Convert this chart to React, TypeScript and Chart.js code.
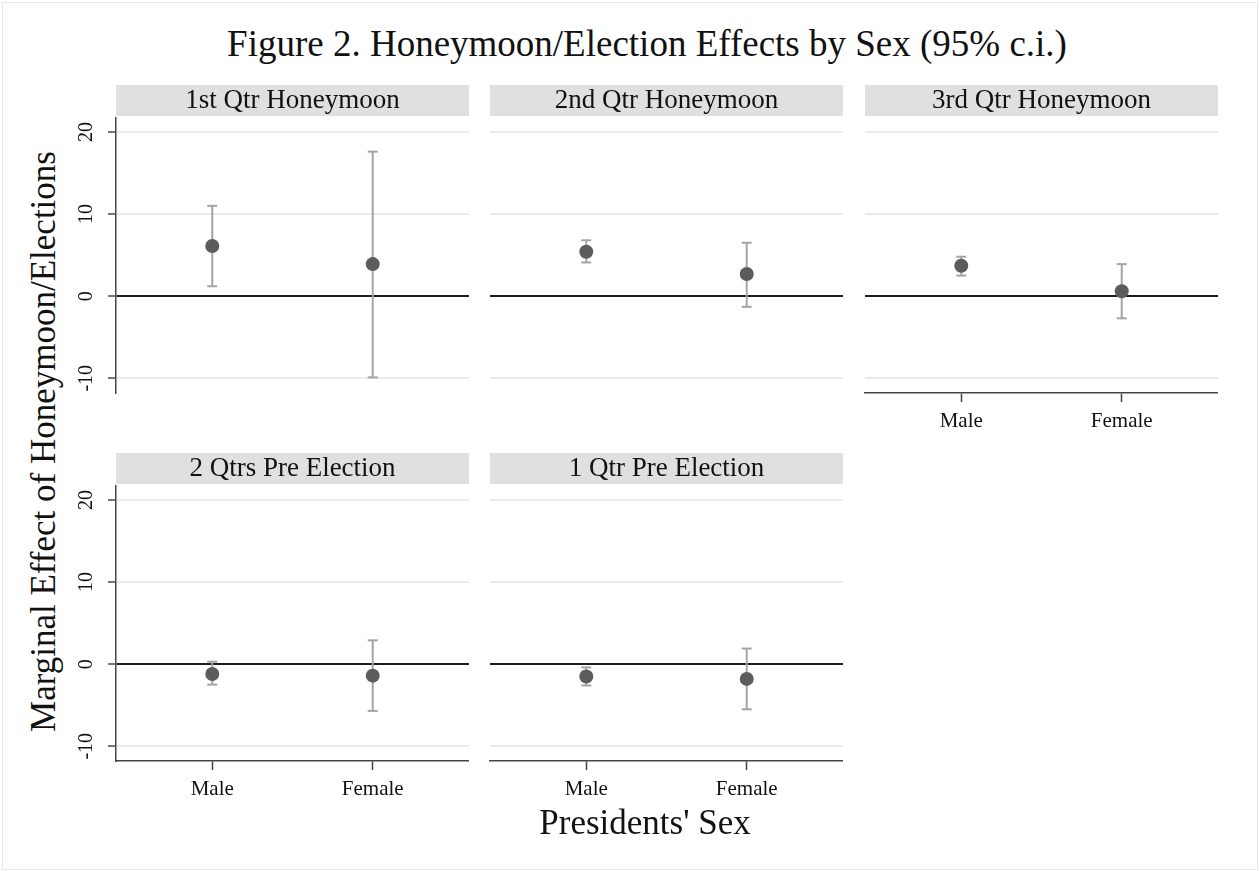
import React, { useEffect, useRef } from 'react';
import { Chart, registerables } from 'chart.js';

Chart.register(...registerables);

// ---- data ----
const categories = ['Male', 'Female'];
const categoryPositions = [1, 2];
const panelTitles = [
  '1st Qtr Honeymoon',
  '2nd Qtr Honeymoon',
  '3rd Qtr Honeymoon',
  '2 Qtrs Pre Election',
  '1 Qtr Pre Election',
];
const maleEffect = [6.1, 5.4, 3.7, -1.2, -1.5];
const maleLower = [1.2, 4.1, 2.5, -2.5, -2.6];
const maleUpper = [11.0, 6.8, 4.8, 0.3, -0.4];
const femaleEffect = [3.9, 2.7, 0.6, -1.4, -1.8];
const femaleLower = [-9.9, -1.3, -2.7, -5.7, -5.5];
const femaleUpper = [17.6, 6.5, 3.9, 2.9, 1.9];
const yTicks = [-10, 0, 10, 20];

const figureTitle = 'Figure 2. Honeymoon/Election Effects by Sex (95% c.i.)';
const yAxisTitle = 'Marginal Effect of Honeymoon/Elections';
const xAxisTitle = "Presidents' Sex";

// ---- layout & style ----
const FONT = '"Liberation Serif", "Times New Roman", serif';
const PLOT_W = 353;
const PLOT_H = 275;
const STRIP_H = 31;
const STRIP_SPACE = 33;
const Y_AXIS_W = 45;
const X_AXIS_H = 50;
const COL_LEFT = [116, 490, 865];
const ROW_TOP = [118, 486];

const POINT_COLOR = '#5c5c5c';
const WHISKER_COLOR = '#a4a4a4';
const GRID_COLOR = '#ebebeb';
const ZERO_COLOR = '#1c1c1c';
const AXIS_COLOR = '#454545';
const STRIP_COLOR = '#e0e0e0';

type PanelSpec = { index: number; col: number; row: number; showY: boolean; showX: boolean };

const panelSpecs: PanelSpec[] = [
  { index: 0, col: 0, row: 0, showY: true, showX: false },
  { index: 1, col: 1, row: 0, showY: false, showX: false },
  { index: 2, col: 2, row: 0, showY: false, showX: true },
  { index: 3, col: 0, row: 1, showY: true, showX: true },
  { index: 4, col: 1, row: 1, showY: false, showX: true },
];

function Panel({ spec }: { spec: PanelSpec }) {
  const ref = useRef<HTMLCanvasElement | null>(null);
  const w = Y_AXIS_W + PLOT_W;
  const h = STRIP_SPACE + PLOT_H + X_AXIS_H;
  const left = COL_LEFT[spec.col] - Y_AXIS_W;
  const top = ROW_TOP[spec.row] - STRIP_SPACE;

  useEffect(() => {
    if (!ref.current) return;
    const i = spec.index;

    // grey header strip with the panel caption
    const stripPlugin = {
      id: 'panelStrip',
      beforeDraw(chart: any) {
        const { ctx, chartArea } = chart;
        ctx.save();
        ctx.fillStyle = STRIP_COLOR;
        ctx.fillRect(chartArea.left, 0, chartArea.right - chartArea.left, STRIP_H);
        ctx.fillStyle = '#111';
        ctx.font = `27px ${FONT}`;
        ctx.textAlign = 'center';
        ctx.textBaseline = 'alphabetic';
        ctx.fillText(panelTitles[i], (chartArea.left + chartArea.right) / 2, 23);
        ctx.restore();
      },
    };

    // vertical (rotated) value labels on the left axis
    const yLabelPlugin = {
      id: 'rotatedYLabels',
      afterDraw(chart: any) {
        if (!spec.showY) return;
        const { ctx, chartArea } = chart;
        const scale = chart.scales.y;
        ctx.save();
        ctx.fillStyle = '#111';
        ctx.font = `20px ${FONT}`;
        ctx.textAlign = 'center';
        ctx.textBaseline = 'alphabetic';
        for (const v of yTicks) {
          const py = scale.getPixelForValue(v);
          ctx.save();
          ctx.translate(chartArea.left - 24, py);
          ctx.rotate(-Math.PI / 2);
          ctx.fillText(String(v), 0, 0);
          ctx.restore();
        }
        ctx.restore();
      },
    };

    const whisker = (x: number, lo: number, hi: number) => ({
      type: 'scatter' as const,
      data: [
        { x, y: lo },
        { x, y: hi },
      ],
      showLine: true,
      borderColor: WHISKER_COLOR,
      borderWidth: 2,
      pointStyle: 'line' as const,
      pointRadius: 5,
      pointBorderColor: WHISKER_COLOR,
      pointBorderWidth: 2,
      pointBackgroundColor: WHISKER_COLOR,
      order: 2,
    });

    const chart = new Chart(ref.current, {
      type: 'scatter',
      data: {
        datasets: [
          {
            data: [
              { x: categoryPositions[0], y: maleEffect[i] },
              { x: categoryPositions[1], y: femaleEffect[i] },
            ],
            pointRadius: 7,
            pointBackgroundColor: POINT_COLOR,
            pointBorderColor: POINT_COLOR,
            pointBorderWidth: 0,
            order: 1,
          },
          whisker(categoryPositions[0], maleLower[i], maleUpper[i]),
          whisker(categoryPositions[1], femaleLower[i], femaleUpper[i]),
        ],
      },
      options: {
        animation: false,
        responsive: false,
        devicePixelRatio: 1,
        events: [],
        layout: { autoPadding: false, padding: { top: STRIP_SPACE, right: 0, left: 0, bottom: 0 } },
        plugins: {
          legend: { display: false },
          tooltip: { enabled: false },
          title: { display: false },
        },
        scales: {
          x: {
            type: 'linear',
            min: 0.4,
            max: 2.6,
            afterBuildTicks: (s: any) => {
              s.ticks = categoryPositions.map((v) => ({ value: v }));
            },
            afterFit: (s: any) => {
              s.height = X_AXIS_H;
              s.paddingLeft = 0;
              s.paddingRight = 0;
            },
            ticks: {
              display: spec.showX,
              autoSkip: false,
              maxRotation: 0,
              minRotation: 0,
              padding: 7,
              color: '#111',
              font: { family: FONT, size: 21 },
              callback: (_v: any, idx: number) => categories[idx],
            },
            grid: {
              display: true,
              drawOnChartArea: false,
              drawTicks: spec.showX,
              tickLength: 9,
              tickColor: AXIS_COLOR,
              tickWidth: 1.5,
            },
            border: { display: spec.showX, color: AXIS_COLOR, width: 1.5 },
          },
          y: {
            type: 'linear',
            min: -11.8,
            max: 21.7,
            afterBuildTicks: (s: any) => {
              s.ticks = yTicks.map((v) => ({ value: v }));
            },
            afterFit: (s: any) => {
              s.width = Y_AXIS_W;
              s.paddingTop = 0;
              s.paddingBottom = 0;
            },
            ticks: { display: false },
            grid: {
              color: (c: any) => (c.tick && c.tick.value === 0 ? ZERO_COLOR : GRID_COLOR),
              lineWidth: 2,
              drawTicks: spec.showY,
              tickLength: 8,
              tickColor: AXIS_COLOR,
              tickWidth: 1.5,
            },
            border: { display: spec.showY, color: AXIS_COLOR, width: 1.5 },
          },
        },
      } as any,
      plugins: [stripPlugin, yLabelPlugin],
    });
    return () => chart.destroy();
  }, []);

  return (
    <canvas
      ref={ref}
      width={w}
      height={h}
      style={{ position: 'absolute', left, top, width: w, height: h }}
    />
  );
}

// text helper: places the alphabetic baseline at a given y
const ASC = 0.891;
const DESC = 0.216;
function baselineOffset(size: number) {
  return (size - (ASC + DESC) * size) / 2 + ASC * size;
}

export default function App() {
  const titleSize = 37;
  const axisTitleSize = 35;
  return (
    <div
      style={{
        position: 'absolute',
        left: 0,
        top: 0,
        width: 1259,
        height: 871,
        background: '#fff',
        overflow: 'hidden',
        fontFamily: FONT,
      }}
    >
      <div
        style={{
          position: 'absolute',
          left: 2,
          top: 2,
          width: 1256,
          height: 868,
          border: '1px solid #e8e8e8',
          boxSizing: 'border-box',
        }}
      />
      <div
        style={{
          position: 'absolute',
          left: 647 - 600,
          width: 1200,
          top: 56 - baselineOffset(titleSize),
          fontSize: titleSize,
          lineHeight: `${titleSize}px`,
          textAlign: 'center',
          color: '#111',
          whiteSpace: 'nowrap',
        }}
      >
        {figureTitle}
      </div>
      {panelSpecs.map((p) => (
        <Panel key={p.index} spec={p} />
      ))}
      <div
        style={{
          position: 'absolute',
          left: 645 - 300,
          width: 600,
          top: 834 - baselineOffset(axisTitleSize),
          fontSize: axisTitleSize,
          lineHeight: `${axisTitleSize}px`,
          textAlign: 'center',
          color: '#111',
          whiteSpace: 'nowrap',
        }}
      >
        {xAxisTitle}
      </div>
      <div
        style={{
          position: 'absolute',
          left: 43 - 400,
          width: 800,
          top: 441.5 - axisTitleSize / 2,
          height: axisTitleSize,
          fontSize: axisTitleSize,
          lineHeight: `${axisTitleSize}px`,
          textAlign: 'center',
          color: '#111',
          whiteSpace: 'nowrap',
          transform: 'rotate(-90deg)',
          transformOrigin: '50% 50%',
        }}
      >
        {yAxisTitle}
      </div>
    </div>
  );
}
